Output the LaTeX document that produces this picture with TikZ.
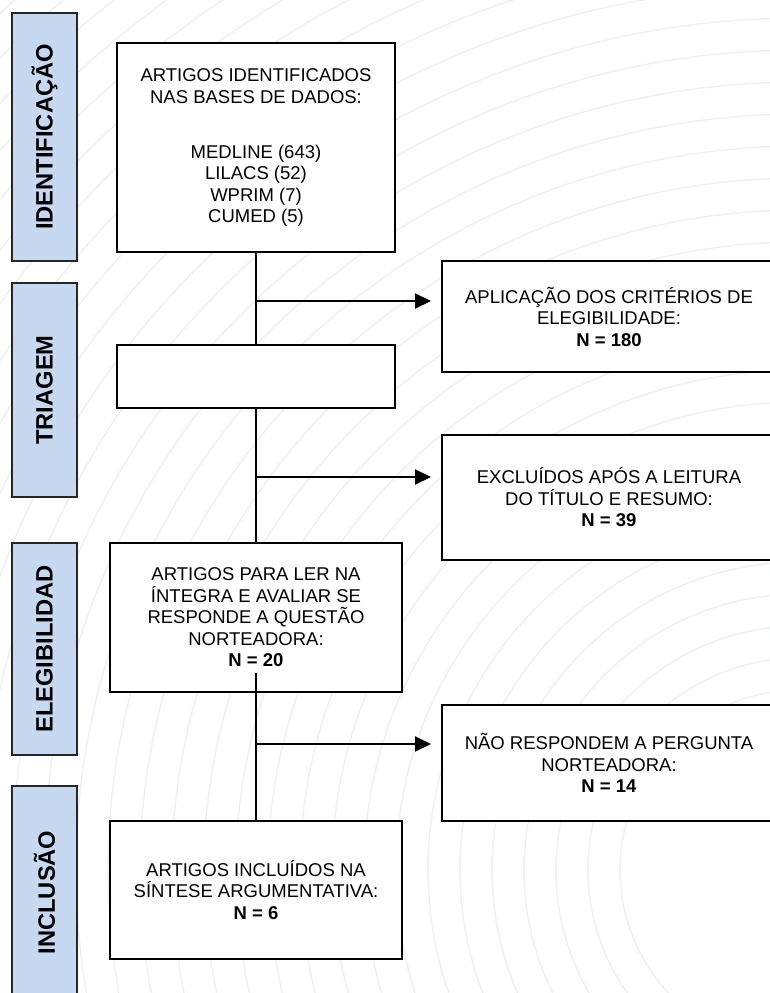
\documentclass[tikz,border=0pt]{standalone}
\usepackage{fontspec}
\setmainfont{Liberation Sans}
\usetikzlibrary{arrows.meta}
\definecolor{lblfill}{RGB}{198,217,241}
\definecolor{lbldraw}{RGB}{38,38,38}
\definecolor{arccol}{RGB}{235,240,247}
\tikzset{
  mainbox/.style={draw=black, fill=white, line width=2pt, align=center, inner sep=0pt,
    font=\fontsize{18.5}{21.5}\selectfont},
  lblbox/.style={draw=lbldraw, fill=lblfill, line width=2pt, inner sep=0pt, rotate=90,
    font=\fontsize{23.7}{26}\selectfont\bfseries},
  conn/.style={line width=2pt, draw=black},
  arr/.style={conn, -{Triangle[length=16pt,width=15pt]}, shorten >=10pt},
  bgarc/.style={draw=arccol, line width=1.4pt}
}
\begin{document}
\begin{tikzpicture}[x=1pt,y=-1pt]
\useasboundingbox (0,0) rectangle (770,993);
\clip (0,0) rectangle (770,993);
\fill[white] (0,0) rectangle (770,993);
% faint background arcs
\foreach \r in {180,212,...,1450} \draw[bgarc] (800,870) circle[radius=\r];
% stage labels
\node[lblbox, minimum width=248pt, minimum height=65pt] (l1) at (44.5,137) {IDENTIFICAÇÃO};
\node[lblbox, minimum width=214pt, minimum height=65pt] (l2) at (44.5,390) {TRIAGEM};
\node[lblbox, minimum width=212pt, minimum height=65pt] (l3) at (44.5,649) {ELEGIBILIDAD};
\node[lblbox, minimum width=213pt, minimum height=65pt] (l4) at (44.5,892.5) {INCLUSÃO};
% main column
\node[mainbox, minimum width=278pt, minimum height=209pt] (b1) at (256,147.5)
  {ARTIGOS IDENTIFICADOS\\NAS BASES DE DADOS:\\[33.5pt]MEDLINE (643)\\LILACS (52)\\WPRIM (7)\\CUMED (5)};
\node[mainbox, minimum width=278pt, minimum height=63pt] (b2) at (256,376.5) {};
\node[mainbox, minimum width=292pt, minimum height=149pt] (b3) at (256,617.5)
  {ARTIGOS PARA LER NA\\ÍNTEGRA E AVALIAR SE\\RESPONDE A QUESTÃO\\NORTEADORA:\\\textbf{N = 20}};
\node[mainbox, minimum width=292pt, minimum height=138pt] (b4) at (256,890)
  {ARTIGOS INCLUÍDOS NA\\SÍNTESE ARGUMENTATIVA:\\\textbf{N = 6}};
% right column
\node[mainbox, minimum width=334pt, minimum height=111pt] (r1) at (609,316.5)
  {APLICAÇÃO DOS CRITÉRIOS DE\\ELEGIBILIDADE:\\\textbf{N = 180}};
\node[mainbox, minimum width=334pt, minimum height=125pt] (r2) at (609,497.5)
  {EXCLUÍDOS APÓS A LEITURA\\DO TÍTULO E RESUMO:\\\textbf{N = 39}};
\node[mainbox, minimum width=334pt, minimum height=116pt] (r3) at (609,763)
  {NÃO RESPONDEM A PERGUNTA\\NORTEADORA:\\\textbf{N = 14}};
% connectors
\coordinate (s3) at (256,673);
\coordinate (j1) at (256,301);
\coordinate (j2) at (256,477);
\coordinate (j3) at (256,744);
\draw[conn] (b1.south) -- (b2.north);
\draw[conn] (b2.south) -- (b3.north);
\draw[conn] (s3) -- (b4.north);
\draw[arr] (j1) -- (j1 -| r1.west);
\draw[arr] (j2) -- (j2 -| r2.west);
\draw[arr] (j3) -- (j3 -| r3.west);
\end{tikzpicture}
\end{document}
